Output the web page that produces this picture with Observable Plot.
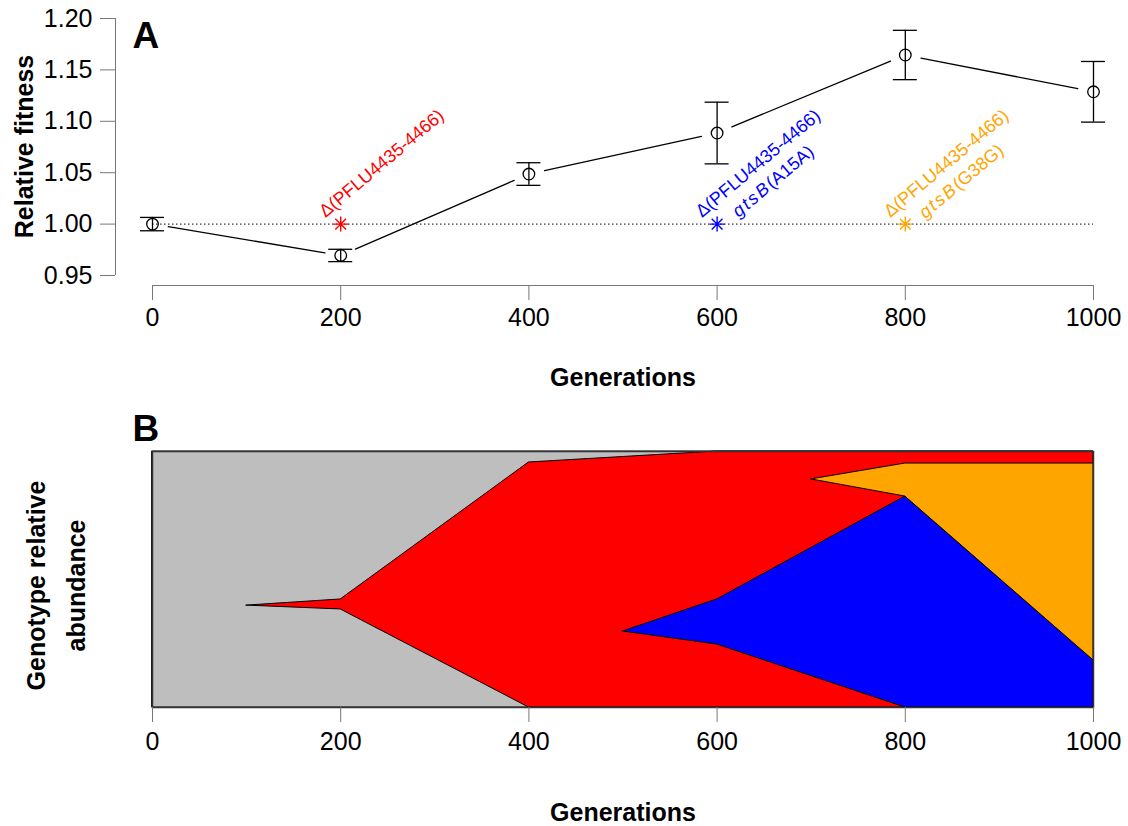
<!DOCTYPE html>
<html><head><meta charset="utf-8">
<script src="https://cdn.jsdelivr.net/npm/d3@7"></script>
<script src="https://cdn.jsdelivr.net/npm/@observablehq/plot@0.6"></script>
<style>
body{margin:0;background:#fff;}
#chart{position:relative;width:1128px;height:826px;font-family:"Liberation Sans",Arial,sans-serif;}
#chart svg{position:absolute;left:0;overflow:visible;}
</style></head><body><div id="chart"></div>
<script>
// ---- Panel A data ----
const generations = [0, 200, 400, 600, 800, 1000];
const fitness     = [1.000, 0.9695, 1.0487, 1.0886, 1.1645, 1.1287];
const fitnessErr  = [0.0065, 0.006, 0.011, 0.030, 0.024, 0.0295];
const yTicks = [0.95, 1.00, 1.05, 1.10, 1.15, 1.20];
const xTicks = [0, 200, 400, 600, 800, 1000];
const mutationGen   = [200, 600, 800];
const mutationColor = ["#FF0000", "#0000FF", "#FFA500"];
const mutationLabel = ["Δ(PFLU4435-4466)", "Δ(PFLU4435-4466)\ngtsB(A15A)", "Δ(PFLU4435-4466)\ngtsB(G38G)"];
const neutralFitness = 1;

// ---- Panel B (Muller plot) data: lower / upper envelope of each genotype ----
const genotypeNames  = ["ancestor", "mutant1", "mutant2", "mutant3"];
const genotypeColors = ["#BEBEBE", "#FF0000", "#0000FF", "#FFA500"];
const ancestorGen = [0, 1000];
const ancestorLow = [0, 0];
const ancestorHigh = [1, 1];
const redGen  = [100, 200, 400, 600, 800, 1000];
const redLow  = [0.398, 0.383, 0, 0, 0, 0];
const redHigh = [0.398, 0.422, 0.957, 1, 1, 1];
const blueGen  = [500, 600, 800, 1000];
const blueLow  = [0.297, 0.246, 0, 0];
const blueHigh = [0.297, 0.422, 0.824, 0.184];
const orangeGen  = [700, 800, 1000];
const orangeLow  = [0.891, 0.824, 0.184];
const orangeHigh = [0.891, 0.953, 0.953];

// ---- build tables ----
const fit = generations.map((g, i) => ({g, f: fitness[i], lo: fitness[i] - fitnessErr[i], hi: fitness[i] + fitnessErr[i]}));
const segs = generations.slice(1).map((g, i) => ({x1: generations[i], y1: fitness[i], x2: g, y2: fitness[i + 1]}));
const muts = mutationGen.map((g, i) => ({g, y: neutralFitness, color: mutationColor[i], label: mutationLabel[i]}));
const gtList = [[ancestorGen, ancestorLow, ancestorHigh], [redGen, redLow, redHigh], [blueGen, blueLow, blueHigh], [orangeGen, orangeLow, orangeHigh]];
const muller = gtList.flatMap(([G, L, H], k) => G.map((g, i) => ({genotype: genotypeNames[k], gen: g, low: L[i], high: H[i]})));
const midGen = (xTicks[0] + xTicks[xTicks.length - 1]) / 2;

const star8 = {draw(ctx, size) {
  const r = Math.sqrt(size / Math.PI), d = r * 0.72;
  ctx.moveTo(-r, 0); ctx.lineTo(r, 0); ctx.moveTo(0, -r); ctx.lineTo(0, r);
  ctx.moveTo(-d, -d); ctx.lineTo(d, d); ctx.moveTo(-d, d); ctx.lineTo(d, -d);
}};

const font = "Liberation Sans, Arial, Helvetica, sans-serif";
const axisGrey = "#777";
const fmtInt = d3.format("d");

const plotA = Plot.plot({
  width: 1128, height: 410,
  marginLeft: 115, marginRight: 35, marginTop: 18, marginBottom: 125,
  style: {fontFamily: font, color: "black", background: "white"},
  x: {domain: [0, 1000], range: [152, 1093]},
  y: {domain: [0.95, 1.20], range: [275, 18]},
  color: {type: "identity"},
  marks: [
    Plot.ruleX([xTicks[0]], {y1: yTicks[0], y2: yTicks[yTicks.length - 1], dx: -37, stroke: axisGrey}),
    Plot.ruleY([yTicks[0]], {x1: xTicks[0], x2: xTicks[xTicks.length - 1], dy: 10, stroke: axisGrey}),
    Plot.axisY(yTicks, {anchor: "left", tickSize: 15, tickPadding: 8, fontSize: 25, stroke: axisGrey, tickFormat: d3.format(".2f"), label: null}),
    Plot.axisX(xTicks, {anchor: "bottom", tickSize: 15, tickPadding: 8, fontSize: 25, stroke: axisGrey, tickFormat: fmtInt, label: null}),
    Plot.ruleY([neutralFitness], {x1: xTicks[0], x2: xTicks[xTicks.length - 1], stroke: "black", strokeDasharray: "1.5,2.5"}),
    Plot.ruleX(fit, {x: "g", y1: "lo", y2: "hi", stroke: "black", strokeWidth: 1.3}),
    Plot.ruleY(fit, {y: "lo", x1: "g", x2: "g", insetLeft: -12, insetRight: -12, stroke: "black", strokeWidth: 1.3}),
    Plot.ruleY(fit, {y: "hi", x1: "g", x2: "g", insetLeft: -12, insetRight: -12, stroke: "black", strokeWidth: 1.3}),
    Plot.arrow(segs, {x1: "x1", y1: "y1", x2: "x2", y2: "y2", insetStart: 16, insetEnd: 16, headLength: 0, stroke: "black", strokeWidth: 1.3}),
    Plot.dot(fit, {x: "g", y: "f", r: 5.8, stroke: "black", fill: "none", strokeWidth: 1.3}),
    Plot.dot(muts, {x: "g", y: "y", r: 7.5, symbol: star8, stroke: "color", fill: "none", strokeWidth: 1.4}),
    Plot.text(muts, {x: "g", y: "y", text: "label", fill: "color", rotate: -40, textAnchor: "middle", lineAnchor: "top", lineHeight: 1.3, dx: 34, dy: -69, fontSize: 18}),
    Plot.text(["Relative fitness"], {frameAnchor: "left", textAnchor: "middle", lineAnchor: "middle", rotate: -90, dx: -91, dy: -5.5, fontSize: 25, fontWeight: "bold"}),
    Plot.text(["Generations"], {x: midGen, frameAnchor: "bottom", textAnchor: "middle", lineAnchor: "middle", dy: 92, fontSize: 25, fontWeight: "bold"}),
    Plot.text(["A"], {frameAnchor: "top-left", textAnchor: "start", lineAnchor: "middle", dx: 17, dy: 17.5, fontSize: 37, fontWeight: "bold"})
  ]
});

const plotB = Plot.plot({
  width: 1128, height: 416,
  marginLeft: 152, marginRight: 35, marginTop: 41, marginBottom: 119,
  style: {fontFamily: font, color: "black", background: "white"},
  x: {domain: [0, 1000]},
  y: {domain: [0, 1], axis: null},
  color: {domain: genotypeNames, range: genotypeColors},
  marks: [
    Plot.area(muller, {x1: "gen", y1: "low", y2: "high", z: "genotype", fill: "genotype", stroke: "black", strokeWidth: 1}),
    Plot.frame({stroke: "#333", strokeWidth: 1.5}),
    Plot.axisX(xTicks, {anchor: "bottom", tickSize: 15, tickPadding: 10, fontSize: 25, stroke: axisGrey, tickFormat: fmtInt, label: null}),
    Plot.text(["Genotype relative\nabundance"], {frameAnchor: "left", textAnchor: "middle", lineAnchor: "middle", rotate: -90, dx: -100, dy: 6, lineHeight: 1.6, fontSize: 25, fontWeight: "bold"}),
    Plot.text(["Generations"], {x: midGen, frameAnchor: "bottom", textAnchor: "middle", lineAnchor: "middle", dy: 105, fontSize: 25, fontWeight: "bold"}),
    Plot.text(["B"], {frameAnchor: "top-left", textAnchor: "start", lineAnchor: "middle", dx: -20, dy: -22, fontSize: 37, fontWeight: "bold"})
  ]
});

// italicise gene names
const NS = "http://www.w3.org/2000/svg";
plotA.querySelectorAll("text, tspan").forEach(el => {
  if (el.childNodes.length === 1 && el.firstChild.nodeType === 3 && el.textContent.startsWith("gtsB")) {
    const rest = el.textContent.slice(4);
    el.textContent = "";
    const it = document.createElementNS(NS, "tspan");
    it.setAttribute("font-style", "italic");
    it.setAttribute("letter-spacing", "2");
    it.textContent = "gtsB";
    const nt = document.createElementNS(NS, "tspan");
    nt.textContent = rest;
    el.append(it, nt);
  }
});

const chart = document.getElementById("chart");
plotA.style.top = "0px";
plotB.style.top = "410px";
chart.append(plotA, plotB);
</script></body></html>
